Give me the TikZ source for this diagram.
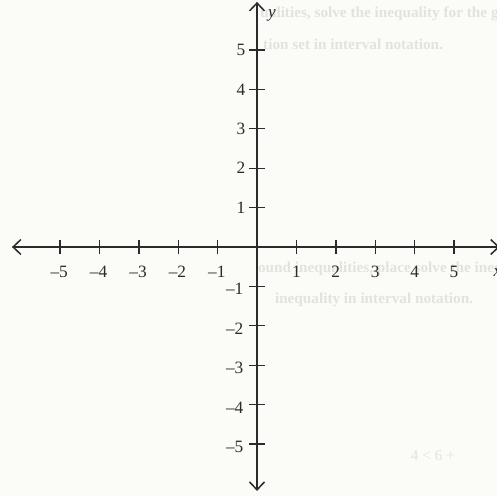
\documentclass[tikz,border=0pt]{standalone}
\usepackage{fontspec}
\setmainfont{Liberation Serif}
\usetikzlibrary{arrows.meta}
\definecolor{paper}{HTML}{FBFBF8}
\definecolor{ink}{HTML}{2B2B2B}
\definecolor{ghost}{HTML}{E2E2DF}
\tikzset{
  axisline/.style={draw=ink, line width=1.2pt, {Straight Barb[length=2mm,width=3.8mm,line width=1.1pt]}-{Straight Barb[length=2mm,width=3.8mm,line width=1.1pt]}},
  tickmark/.style={draw=ink, line width=1pt},
  numlab/.style={text=ink, font=\fontsize{12.5}{14}\selectfont, inner sep=0pt},
  ghosttext/.style={text=ghost, font=\fontsize{11}{13}\selectfont\bfseries, inner sep=0pt, anchor=west}
}
\begin{document}
\begin{tikzpicture}
\useasboundingbox[fill=paper] (-6.523,-6.320) rectangle (6.091,6.269);
% faint bleed-through text
\node[ghosttext] (g1) at (0.08,5.93) {ualities, solve the inequality for the given};
\node[ghosttext] (g2) at (0.15,5.14) {tion set in interval notation.};
\node[ghosttext] (g3) at (0.02,-0.56) {ound inequalities, place solve the inequ};
\node[ghosttext] (g4) at (0.45,-1.33) {inequality in interval notation.};
\node[ghosttext, font=\fontsize{11}{13}\selectfont] (g5) at (3.9,-5.3) {4 < 6 +};
% axes
\coordinate (xl) at (-6.22,0);
\coordinate (xr) at (6.16,0);
\coordinate (yb) at (0,-6.19);
\coordinate (yt) at (0,6.22);
\draw[axisline] (xl) -- (xr);
\draw[axisline] (yb) -- (yt);
% ticks and labels
\foreach \i in {-5,...,-1,1,2,...,5} {
  \draw[tickmark] (\i,-0.18) -- (\i,0.18);
  \draw[tickmark] (-0.2,\i) -- (0.2,\i);
}
\foreach \i in {1,...,5} {
  \node[numlab] (xp\i) at (\i,-0.64) {\i};
  \node[numlab, anchor=east] (yp\i) at (-0.29,\i) {\i};
}
\foreach \i in {1,...,5} {
  \node[numlab] (xn\i) at (-\i-0.02,-0.64) {\textendash\i};
  \node[numlab, anchor=east] (yn\i) at (-0.34,-\i-0.07) {\textendash\i};
}
\node[numlab, font=\fontsize{12.5}{14}\selectfont\itshape] (ylab) at (0.38,5.89) {y};
\node[numlab, font=\fontsize{12.5}{14}\selectfont\itshape, anchor=west] (xlab) at (6.0,-0.64) {x};
\end{tikzpicture}
\end{document}
